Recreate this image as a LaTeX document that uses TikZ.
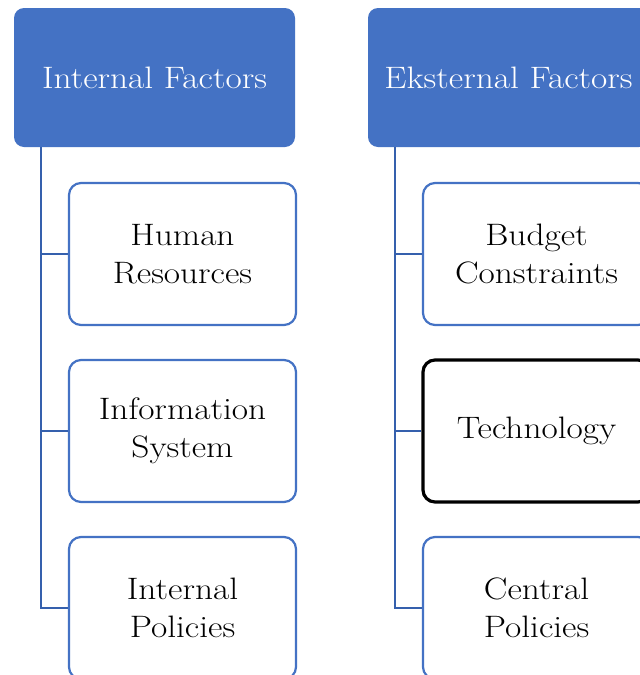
\documentclass[tikz,border=0pt]{standalone}
\usepackage{fontspec}
\setmainfont{Latin Modern Roman}[FakeStretch=1.14]
\definecolor{hdrblue}{HTML}{4472C4}
\definecolor{linkblue}{HTML}{3560AD}
\tikzset{
  header/.style={draw=none, fill=hdrblue, rounded corners=10pt, minimum width=281pt,
    minimum height=139pt, text=white, align=center, inner sep=0pt,
    font=\fontsize{31}{38}\selectfont},
  item/.style={draw=hdrblue, line width=2.2pt, fill=white, rounded corners=12pt,
    minimum width=227pt, minimum height=142pt, align=center, inner sep=0pt,
    font=\fontsize{31}{38}\selectfont},
  itemdark/.style={item, draw=black, line width=3.2pt},
  conn/.style={draw=linkblue, line width=2.4pt}
}
\begin{document}
\begin{tikzpicture}[x=1pt,y=-1pt]
  \path[use as bounding box, clip] (0,0) rectangle (640,675);
  \fill[white] (0,0) rectangle (640,675);

  % column heads
  \node[header] (int) at (154.5,77.5) {Internal Factors};
  \node[header] (ext) at (508.5,77.5) {Eksternal Factors};

  % spine start points below the heads
  \coordinate (ti) at (41,147);
  \coordinate (te) at (395,147);

  % internal factors
  \node[item] (hr) at (182.5,254) {Human\\Resources};
  \node[item] (is) at (182.5,431) {Information\\System};
  \node[item] (ip) at (182.5,608) {Internal\\Policies};

  % external factors
  \node[item] (bc) at (536.5,254) {Budget\\Constraints};
  \node[itemdark] (tc) at (536.5,431) {Technology};
  \node[item] (cp) at (536.5,608) {Central\\Policies};

  % connectors
  \draw[conn] (ti) |- (hr.west);
  \draw[conn] (ti) |- (is.west);
  \draw[conn] (ti) |- (ip.west);
  \draw[conn] (te) |- (bc.west);
  \draw[conn] (te) |- (tc.west);
  \draw[conn] (te) |- (cp.west);
\end{tikzpicture}
\end{document}
